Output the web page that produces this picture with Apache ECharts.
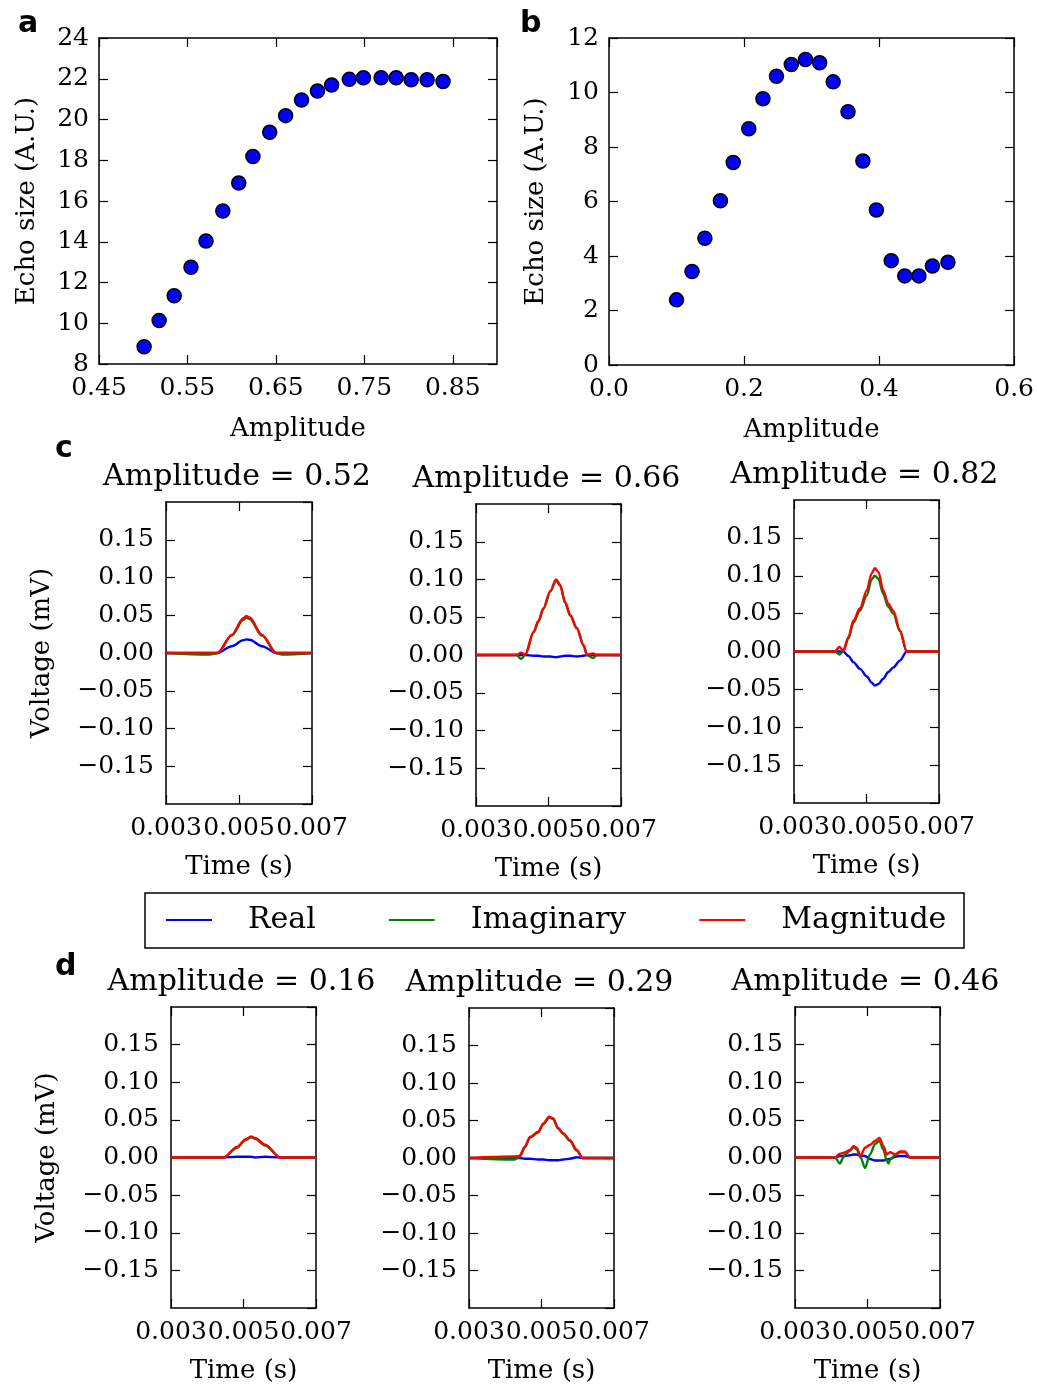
<!DOCTYPE html>
<html><head><meta charset="utf-8">
<script src="https://cdn.jsdelivr.net/npm/echarts@6/dist/echarts.min.js"></script>
<style>html,body{margin:0;padding:0;background:#fff}#c{width:1037px;height:1385px}</style>
</head><body><div id="c"></div>
<script>
// ---------- DATA ----------
const ampA  = [0.501,0.518,0.535,0.554,0.571,0.590,0.608,0.624,0.643,0.661,0.679,0.697,0.713,0.733,0.749,0.769,0.786,0.803,0.821,0.839];
const echoA = [8.85,10.13,11.35,12.75,14.04,15.51,16.88,18.18,19.37,20.19,20.96,21.40,21.69,21.97,22.05,22.05,22.05,21.95,21.95,21.87];
const ampB  = [0.100,0.123,0.142,0.165,0.184,0.207,0.228,0.248,0.270,0.291,0.312,0.332,0.354,0.376,0.396,0.418,0.438,0.459,0.479,0.502];
const echoB = [2.39,3.43,4.65,6.03,7.43,8.67,9.77,10.60,11.03,11.21,11.09,10.39,9.29,7.49,5.69,3.83,3.27,3.27,3.63,3.77];

const xTicksA = ['0.45','0.55','0.65','0.75','0.85'];
const yTicksA = ['8','10','12','14','16','18','20','22','24'];
const xTicksB = ['0.0','0.2','0.4','0.6'];
const yTicksB = ['0','2','4','6','8','10','12'];
const timeTicks = ['0.003','0.005','0.007'];
const voltTicks = ['−0.15','−0.10','−0.05','0.00','0.05','0.10','0.15'];

const seriesNames = ['Real','Imaginary','Magnitude'];
const panelTitles = ['Amplitude = 0.52','Amplitude = 0.66','Amplitude = 0.82','Amplitude = 0.16','Amplitude = 0.29','Amplitude = 0.46'];

const timeC1 = [0.003,0.0042,0.00441,0.0048,0.00512,0.0052,0.00529,0.00563,0.00602,0.00618,0.007];
const realC1 = [0,0,0,0.009,0.017,0.018,0.0175,0.009,0,0,0];
const imagC1 = [0,-0.002,0,0.023,0.044,0.047,0.045,0.023,0,-0.002,0];
const magC1  = [0,0,0,0.024,0.046,0.049,0.047,0.024,0,0,0];

const timeC2 = [0.003,0.00412,0.00424,0.00436,0.00459,0.00472,0.00486,0.00505,0.00521,0.00532,0.00546,0.0056,0.00578,0.00597,0.00606,0.00623,0.00634,0.007];
const realC2 = [0,0,0,0,-0.001,-0.001,-0.002,-0.002,-0.003,-0.002,-0.001,-0.001,-0.002,-0.001,0,0,0,0];
const imagC2 = [0,0,-0.005,0,0.030,0.044,0.061,0.084,0.099,0.092,0.069,0.052,0.035,0.012,0,-0.004,0,0];
const magC2  = [0,0,0.003,0.001,0.031,0.045,0.062,0.085,0.100,0.093,0.070,0.053,0.036,0.013,0,0.002,0,0];

const timeC3 = [0.003,0.00413,0.00425,0.00436,0.0045,0.00464,0.00482,0.00501,0.00514,0.00523,0.00533,0.00546,0.0056,0.00574,0.00592,0.00611,0.007];
const realC3 = [0,0,0,0,-0.006,-0.014,-0.023,-0.033,-0.041,-0.045,-0.043,-0.036,-0.027,-0.021,-0.012,0,0];
const imagC3 = [0,0,-0.004,0,0.017,0.038,0.054,0.074,0.095,0.100,0.096,0.076,0.059,0.050,0.027,0,0];
const magC3  = [0,0,0.006,0.001,0.019,0.041,0.057,0.081,0.103,0.110,0.105,0.081,0.063,0.054,0.028,0,0];

const timeD1 = [0.003,0.00445,0.00482,0.00505,0.00521,0.00532,0.0056,0.00601,0.007];
const realD1 = [0,0,0.001,0.001,0.001,0,0.001,0,0];
const imagD1 = [0,0,0.013,0.023,0.027,0.025,0.016,0,0];
const magD1  = [0,0,0.014,0.024,0.028,0.026,0.017,0,0];

const timeD2 = [0.003,0.00426,0.0044,0.00454,0.00468,0.00491,0.00505,0.00521,0.00532,0.00546,0.0056,0.00578,0.00597,0.00613,0.007];
const realD2 = [0,0,0,-0.001,-0.001,-0.002,-0.002,-0.003,-0.003,-0.003,-0.002,-0.001,0.001,0,0];
const imagD2 = [0,-0.002,0.002,0.014,0.027,0.034,0.045,0.054,0.052,0.039,0.032,0.023,0.010,0,0];
const magD2  = [0,0.002,0.003,0.015,0.028,0.035,0.046,0.055,0.053,0.040,0.033,0.024,0.011,0,0];

const timeD3 = [0.003,0.0041,0.00424,0.00433,0.00438,0.00452,0.00461,0.0047,0.00481,0.00493,0.00507,0.00521,0.00533,0.00544,0.00553,0.00558,0.00562,0.00576,0.0059,0.00603,0.00617,0.007];
const realD3 = [0,0,0.002,0.002,0.002,0.003,0.004,0.004,0.002,0.002,-0.002,-0.004,-0.004,-0.004,-0.003,-0.002,-0.002,0.001,0.002,0.002,0,0];
const imagD3 = [0,0,-0.008,0,0.004,0.009,0.014,0.011,0,-0.014,0.004,0.018,0.022,0.010,-0.004,-0.008,-0.003,0.003,0.007,0.007,0,0];
const magD3  = [0,0,0.005,0.006,0.007,0.010,0.015,0.013,0.002,0.013,0.017,0.022,0.026,0.015,0.004,0.006,0.007,0.004,0.008,0.008,0,0];

// ---------- LAYOUT / STYLE ----------
const FONT = 'DejaVu Serif';
const colors = ['#0000ff','#008000','#ff0000'];
const boxes = [
  {left:99, top:38, width:398, height:326},   // a
  {left:609, top:38, width:406, height:327},  // b
  {left:166, top:502, width:146, height:302}, // c1
  {left:476, top:504, width:145, height:302}, // c2
  {left:794, top:500, width:145, height:303}, // c3
  {left:171, top:1007, width:145, height:303},// d1
  {left:469, top:1008, width:145, height:304},// d2
  {left:795, top:1007, width:145, height:305} // d3
];
const small = [
  [timeC1, realC1, imagC1, magC1],
  [timeC2, realC2, imagC2, magC2],
  [timeC3, realC3, imagC3, magC3],
  [timeD1, realD1, imagD1, magD1],
  [timeD2, realD2, imagD2, magD2],
  [timeD3, realD3, imagD3, magD3]
];

const grid = [], xAxis = [], yAxis = [], series = [], title = [];
const lineStyle = {color:'#000', width:1.5};
const tickStyle = {inside:true, length:9, lineStyle:{color:'#000', width:1.2}};

function addAxes(i, xc, yc){
  grid.push(Object.assign({containLabel:false}, boxes[i]));
  const common = {type:'value', gridIndex:i, splitLine:{show:false}, axisLine:{show:true, onZero:false, lineStyle}, axisTick:tickStyle};
  xAxis.push(Object.assign({}, common, {position:'bottom', min:xc.min, max:xc.max, interval:xc.interval,
    name:xc.name||'', nameLocation:'middle', nameGap:xc.nameGap||50,
    nameTextStyle:{fontFamily:FONT, fontSize:26, color:'#000'},
    axisLabel:{show:true, margin:xc.margin||12, fontFamily:FONT, fontSize:25, color:'#000', showMaxLabel:xc.showMax!==false, showMinLabel:true, hideOverlap:false,
      formatter:(v)=>{const k=Math.round((v-xc.min)/xc.interval); return xc.labels[k]!==undefined?xc.labels[k]:'';}}}));
  xAxis.push(Object.assign({}, common, {position:'top', min:xc.min, max:xc.max, interval:xc.interval, axisLabel:{show:false}}));
  yAxis.push(Object.assign({}, common, {position:'left', min:yc.min, max:yc.max, interval:yc.interval,
    name:yc.name||'', nameLocation:'middle', nameGap:yc.nameGap||60, nameRotate:90,
    nameTextStyle:{fontFamily:FONT, fontSize:26, color:'#000'},
    axisLabel:{show:true, margin:yc.margin||12, fontFamily:FONT, fontSize:25, color:'#000', showMinLabel:yc.showEnds!==false, showMaxLabel:yc.showEnds!==false,
      formatter:(v)=>{const k=Math.round((v-yc.min)/yc.interval)-(yc.labelOffset||0); return yc.labels[k]!==undefined?yc.labels[k]:'';}}}));
  yAxis.push(Object.assign({}, common, {position:'right', min:yc.min, max:yc.max, interval:yc.interval, axisLabel:{show:false}}));
}

const dot = {color:'#0000ff', borderColor:'#000', borderWidth:1.5, opacity:1};
// panel a
addAxes(0, {min:0.45, max:0.9, interval:0.1, labels:xTicksA, showMax:false, name:'Amplitude', nameGap:52, margin:12},
           {min:8, max:24, interval:2, labels:yTicksA, name:'Echo size (A.U.)', nameGap:59, margin:10});
series.push({type:'scatter', xAxisIndex:0, yAxisIndex:0, data:ampA.map((a,i)=>[a,echoA[i]]), symbolSize:14,
  itemStyle:dot, silent:true});
// panel b
addAxes(1, {min:0, max:0.6, interval:0.2, labels:xTicksB, name:'Amplitude', nameGap:52, margin:12},
           {min:0, max:12, interval:2, labels:yTicksB, name:'Echo size (A.U.)', nameGap:60, margin:10});
series.push({type:'scatter', xAxisIndex:2, yAxisIndex:2, data:ampB.map((a,i)=>[a,echoB[i]]), symbolSize:14,
  itemStyle:dot, silent:true});

// small panels
small.forEach((p, j) => {
  const gi = j + 2;
  const firstCol = (j % 3) === 0;
  addAxes(gi, {min:0.003, max:0.007, interval:0.002, labels:timeTicks, name:'Time (s)', nameGap:50, margin:12},
              {min:-0.2, max:0.2, interval:0.05, labels:voltTicks, labelOffset:1, showEnds:false,
               name:firstCol?'Voltage (mV)':'', nameGap:111, margin:12});
  const [t, re, im, mg] = p;
  [re, im, mg].forEach((arr, k) => {
    series.push({type:'line', name:seriesNames[k], xAxisIndex:gi*2, yAxisIndex:gi*2,
      data:t.map((tt,i)=>[tt, arr[i]]), showSymbol:false, smooth:0.3, smoothMonotone:'x',
      lineStyle:{color:colors[k], width:2.4}, itemStyle:{color:colors[k]}, z:2+k});
  });
  const b = boxes[gi];
  title.push({text:panelTitles[j], left:b.left + b.width/2 - 2, top:b.top - 40, textAlign:'center',
    textStyle:{fontFamily:FONT, fontSize:30, fontWeight:'normal', color:'#000'}, padding:0});
});

const option = {
  animation:false,
  backgroundColor:'#fff',
  title,
  grid, xAxis, yAxis, series,
  legend:{data:seriesNames, left:166, top:905, padding:0, itemWidth:46, itemHeight:2, itemGap:73, icon:'rect',
    textStyle:{fontFamily:FONT, fontSize:30, color:'#000', padding:[0,0,0,31]}},
  graphic:[
    {type:'rect', shape:{x:145, y:893, width:819, height:55}, style:{fill:'none', stroke:'#000', lineWidth:1.5}, silent:true},
    {type:'text', left:18, top:9, style:{text:'a', font:'bold 30px "DejaVu Sans"', fill:'#000'}},
    {type:'text', left:520, top:9, style:{text:'b', font:'bold 30px "DejaVu Sans"', fill:'#000'}},
    {type:'text', left:55, top:434, style:{text:'c', font:'bold 30px "DejaVu Sans"', fill:'#000'}},
    {type:'text', left:55, top:952, style:{text:'d', font:'bold 30px "DejaVu Sans"', fill:'#000'}}
  ]
};
const chart = echarts.init(document.getElementById('c'), null, {renderer:'canvas'});
chart.setOption(option);
</script></body></html>
